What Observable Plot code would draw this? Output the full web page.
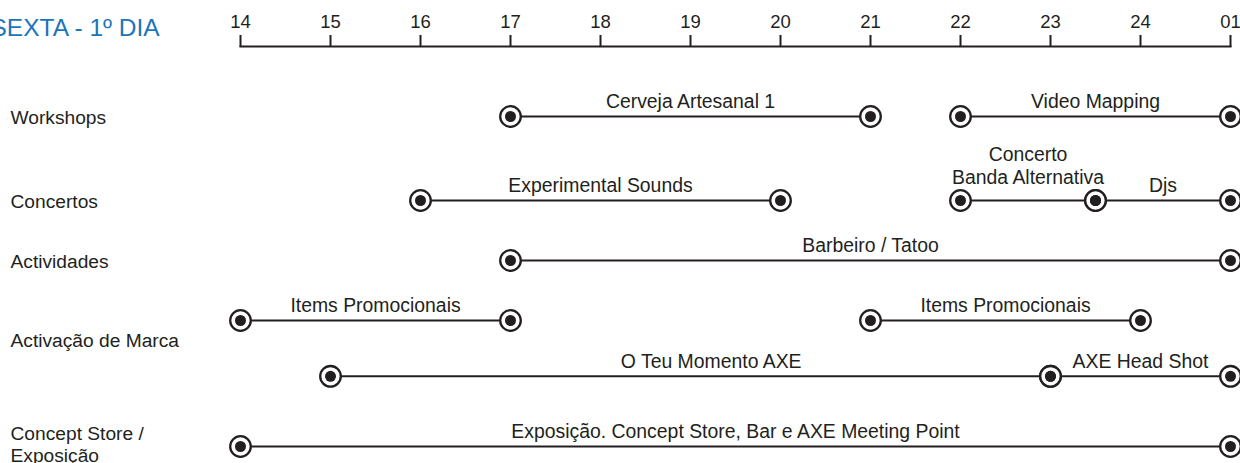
<!DOCTYPE html>
<html>
<head>
<meta charset="utf-8">
<script src="https://cdn.jsdelivr.net/npm/d3@7"></script>
<script src="https://cdn.jsdelivr.net/npm/@observablehq/plot@0.6"></script>
<style>
  html, body { margin: 0; padding: 0; background: #fff; overflow: hidden; }
  #chart svg { display: block; }
</style>
</head>
<body>
<div id="chart"></div>
<script>
// ---- Data ----
const title = "SEXTA - 1º DIA";

// hour ticks along the top axis (25 = 01h next day)
const tickHours = [14, 15, 16, 17, 18, 19, 20, 21, 22, 23, 24, 25];
const tickLabels = ["14", "15", "16", "17", "18", "19", "20", "21", "22", "23", "24", "01"];

// category names and their vertical lane
const categories = ["Workshops", "Concertos", "Actividades", "Activação de Marca", "Concept Store /\nExposição"];
const categoryLane = [0, 1.4, 2.4, 3.72, 5.46];

// timeline tracks (lanes)
const trackLane = [0, 1.4, 2.4, 3.4, 4.33, 5.5];

// activity segments
const segTrack = [0, 0, 1, 1, 1, 2, 3, 3, 4, 4, 5];
const segStart = [17, 22, 16, 22, 23.5, 17, 14, 21, 15, 23, 14];
const segEnd   = [21, 25, 20, 23.5, 25, 25, 17, 24, 23, 25, 25];
const segLabel = [
  "Cerveja Artesanal 1", "Video Mapping",
  "Experimental Sounds", "Concerto\nBanda Alternativa", "Djs",
  "Barbeiro / Tatoo",
  "Items Promocionais", "Items Promocionais",
  "O Teu Momento AXE", "AXE Head Shot",
  "Exposição. Concept Store, Bar e AXE Meeting Point"
];
const segLabelAt = [19, 23.5, 18, 22.75, 24.25, 21, 15.5, 22.5, 19.23, 24, 19.5];

// ---- Derived tables ----
const segs = segStart.map((s, i) => ({
  start: s, end: segEnd[i], lane: trackLane[segTrack[i]],
  label: segLabel[i], at: segLabelAt[i]
}));
const ends = segs.flatMap(d => [{x: d.start, lane: d.lane}, {x: d.end, lane: d.lane}]);
const cats = categories.map((c, i) => ({name: c, lane: categoryLane[i]}));

const ink = "#231f20";
const font = "Liberation Sans, Arial, Helvetica, sans-serif";

const chart = Plot.plot({
  width: 1240,
  height: 463,
  marginTop: 46,
  marginBottom: 0,
  marginLeft: 240,
  marginRight: 10,
  style: {fontFamily: font, color: ink, background: "#fff"},
  x: {domain: [14, 25], axis: null},
  y: {domain: [-1.1667, 5.7833], reverse: true, axis: null},
  marks: [
    Plot.frame({anchor: "top", stroke: ink, strokeWidth: 2}),
    Plot.axisX({
      anchor: "top", ticks: tickHours, tickSize: 12, tickPadding: 7,
      tickFormat: (d) => tickLabels[tickHours.indexOf(d)],
      label: null, fontSize: 18.5, stroke: ink, strokeWidth: 2, fill: ink
    }),
    Plot.text([title], {
      frameAnchor: "top-left", textAnchor: "start", lineAnchor: "middle",
      dx: -250, dy: -18, fontSize: 24.5, fill: "#1b75bb"
    }),
    Plot.text(cats, {
      x: () => 14, y: "lane", text: "name", textAnchor: "start", lineAnchor: "middle",
      dx: -230, fontSize: 19.2, fill: ink, lineHeight: 1.16
    }),
    Plot.ruleY(segs, {y: "lane", x1: "start", x2: "end", stroke: ink, strokeWidth: 2}),
    Plot.dot(ends, {x: "x", y: "lane", r: 10.3, fill: "white", stroke: ink, strokeWidth: 2.3}),
    Plot.dot(ends, {x: "x", y: "lane", r: 5.5, fill: ink, stroke: "none"}),
    Plot.text(segs.filter(d => !d.label.includes("\n")), {
      x: "at", y: "lane", text: "label", lineAnchor: "middle",
      dy: -14.5, fontSize: 19.4, fill: ink
    }),
    Plot.text(segs.filter(d => d.label.includes("\n")), {
      x: "at", y: "lane", text: "label", lineAnchor: "middle",
      dy: -35, fontSize: 19.4, fill: ink, lineHeight: 1.19
    })
  ]
});
document.getElementById("chart").appendChild(chart);
</script>
</body>
</html>
